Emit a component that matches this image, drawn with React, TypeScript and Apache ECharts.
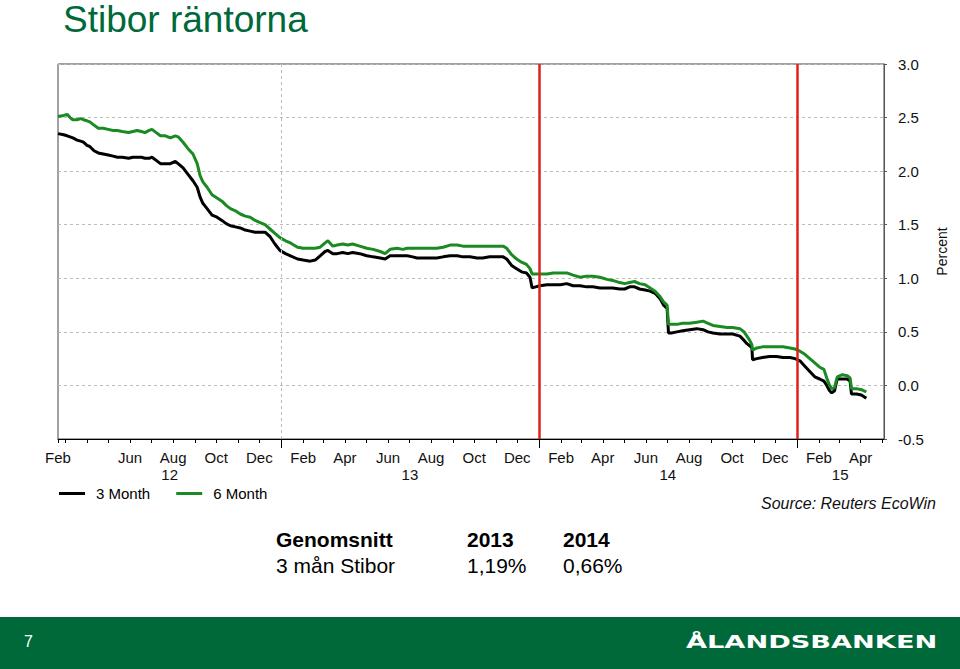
import React, { useEffect, useRef } from 'react';
import * as echarts from 'echarts';

// ---- Data ----
const dates: string[] = [
  '2012-02-20','2012-02-28','2012-03-04','2012-03-08','2012-03-12','2012-03-18','2012-03-23','2012-03-27','2012-04-01','2012-04-05',
  '2012-04-11','2012-04-17','2012-04-24','2012-05-01','2012-05-08','2012-05-14','2012-05-21','2012-05-30','2012-06-05','2012-06-11',
  '2012-06-17','2012-06-22','2012-06-28','2012-07-02','2012-07-08','2012-07-14','2012-07-21','2012-07-28','2012-08-04','2012-08-08',
  '2012-08-15','2012-08-22','2012-08-29','2012-09-04','2012-09-08','2012-09-12','2012-09-18','2012-09-25','2012-10-02','2012-10-09',
  '2012-10-15','2012-10-21','2012-10-28','2012-11-04','2012-11-11','2012-11-18','2012-11-25','2012-12-02','2012-12-09','2012-12-16',
  '2012-12-23','2012-12-30',
  '2013-01-07','2013-01-14','2013-01-24','2013-02-01','2013-02-11','2013-02-18','2013-02-25','2013-03-04','2013-03-08','2013-03-15',
  '2013-03-21','2013-03-29','2013-04-05','2013-04-12','2013-04-22','2013-05-02','2013-05-11','2013-05-21','2013-05-28','2013-06-04',
  '2013-06-14','2013-06-22','2013-06-28','2013-07-06','2013-07-12','2013-07-20','2013-07-30','2013-08-09','2013-08-18','2013-08-28',
  '2013-09-07','2013-09-15','2013-09-25','2013-10-05','2013-10-13','2013-10-23','2013-11-02','2013-11-11','2013-11-16','2013-11-23',
  '2013-11-30','2013-12-07','2013-12-14','2013-12-19','2013-12-22','2013-12-27',
  '2014-01-02','2014-01-12','2014-01-21','2014-01-31','2014-02-09','2014-02-18','2014-02-28','2014-03-09','2014-03-18','2014-03-28',
  '2014-04-07','2014-04-15','2014-04-25','2014-05-02','2014-05-09','2014-05-16','2014-05-23','2014-05-31','2014-06-07','2014-06-14',
  '2014-06-21','2014-06-26','2014-07-01','2014-07-03','2014-07-07','2014-07-15','2014-07-23','2014-08-02','2014-08-12','2014-08-21',
  '2014-08-28','2014-09-04','2014-09-14','2014-09-24','2014-10-02','2014-10-12','2014-10-18','2014-10-22','2014-10-26','2014-10-29',
  '2014-10-30','2014-11-05','2014-11-13','2014-11-23','2014-12-03','2014-12-12','2014-12-22','2014-12-29',
  '2015-01-05','2015-01-12','2015-01-19','2015-01-26','2015-02-02','2015-02-08','2015-02-12','2015-02-16','2015-02-19','2015-02-23',
  '2015-02-26','2015-02-27','2015-03-06','2015-03-13','2015-03-17','2015-03-19','2015-03-26','2015-04-02','2015-04-09',
];

const stibor3m: number[] = [
  2.35,2.34,2.33,2.32,2.31,2.29,2.28,2.27,2.24,2.23,
  2.19,2.17,2.16,2.15,2.14,2.13,2.13,2.12,2.13,2.13,
  2.13,2.12,2.12,2.13,2.10,2.07,2.07,2.07,2.09,2.07,
  2.03,1.97,1.91,1.85,1.76,1.70,1.65,1.59,1.57,1.54,
  1.51,1.49,1.48,1.47,1.45,1.44,1.43,1.43,1.43,1.39,
  1.32,1.26,
  1.23,1.21,1.18,1.17,1.16,1.17,1.21,1.25,1.26,1.23,
  1.23,1.24,1.23,1.24,1.23,1.21,1.20,1.19,1.18,1.21,
  1.21,1.21,1.21,1.20,1.19,1.19,1.19,1.19,1.20,1.21,
  1.21,1.20,1.20,1.19,1.19,1.20,1.20,1.20,1.18,1.12,
  1.09,1.06,1.05,1.01,0.91,0.92,
  0.93,0.94,0.94,0.94,0.95,0.93,0.93,0.92,0.92,0.91,
  0.91,0.91,0.90,0.90,0.92,0.92,0.90,0.89,0.88,0.86,
  0.81,0.75,0.72,0.49,0.49,0.50,0.51,0.52,0.53,0.52,
  0.50,0.49,0.48,0.48,0.48,0.46,0.42,0.39,0.37,0.35,
  0.24,0.25,0.26,0.27,0.27,0.26,0.26,0.25,
  0.23,0.18,0.13,0.08,0.06,0.04,0.00,-0.05,-0.07,-0.05,
  0.04,0.06,0.06,0.06,0.04,-0.08,-0.08,-0.09,-0.12,
];

const stibor6m: number[] = [
  2.51,2.52,2.53,2.50,2.48,2.48,2.49,2.48,2.47,2.46,
  2.43,2.40,2.40,2.39,2.38,2.38,2.37,2.36,2.37,2.38,
  2.37,2.36,2.38,2.39,2.36,2.33,2.33,2.31,2.33,2.32,
  2.27,2.21,2.16,2.07,1.96,1.90,1.85,1.78,1.75,1.72,
  1.68,1.65,1.63,1.60,1.58,1.57,1.54,1.52,1.50,1.46,
  1.42,1.38,
  1.35,1.33,1.29,1.28,1.28,1.28,1.29,1.33,1.35,1.30,
  1.31,1.32,1.31,1.32,1.30,1.28,1.27,1.25,1.23,1.27,
  1.28,1.27,1.28,1.28,1.28,1.28,1.28,1.28,1.29,1.31,
  1.31,1.30,1.30,1.30,1.30,1.30,1.30,1.30,1.28,1.22,
  1.18,1.15,1.13,1.09,1.04,1.04,
  1.04,1.04,1.05,1.05,1.05,1.03,1.01,1.02,1.02,1.01,
  0.99,0.98,0.96,0.95,0.96,0.97,0.95,0.94,0.91,0.88,
  0.83,0.78,0.75,0.57,0.57,0.57,0.58,0.58,0.59,0.60,
  0.58,0.56,0.55,0.54,0.54,0.53,0.50,0.46,0.42,0.38,
  0.33,0.35,0.36,0.36,0.36,0.36,0.35,0.34,
  0.32,0.29,0.25,0.21,0.17,0.15,0.07,0.00,-0.03,-0.02,
  0.06,0.08,0.10,0.09,0.07,-0.03,-0.03,-0.04,-0.06,
];

const seriesNames = ['3 Month', '6 Month'];
const xMin = '2012-02-20';
const xMax = '2015-05-04';
const monthNames = ['Jan','Feb','Mar','Apr','May','Jun','Jul','Aug','Sep','Oct','Nov','Dec'];
const monthLabelDates = [
  '2012-02-20','2012-06-01','2012-08-01','2012-10-01','2012-12-01',
  '2013-02-01','2013-04-01','2013-06-01','2013-08-01','2013-10-01','2013-12-01',
  '2014-02-01','2014-04-01','2014-06-01','2014-08-01','2014-10-01','2014-12-01',
  '2015-02-01','2015-04-01',
];
const yearLabelDates = ['2012-07-27','2013-07-02','2014-07-02','2015-03-03'];
const yearLabels = ['12','13','14','15'];
const yearBoundaries = ['2013-01-01','2014-01-01','2015-01-01'];
const redLineDates = ['2014-01-01','2015-01-01'];
const greyLineDates = ['2013-01-01'];
const yTicks = [-0.5, 3.0, 0.5]; // min, max, interval
const tableHeader = ['Genomsnitt','2013','2014'];
const tableRow = ['3 mån Stibor','1,19%','0,66%'];
const titleText = 'Stibor räntorna';
const sourceText = 'Source: Reuters EcoWin';
const pageNumber = '7';
const logoText = 'ÅLANDSBANKEN';

const ts = (d: string) => Date.parse(d + 'T00:00:00Z');

const FONT = '"Liberation Sans", Arial, sans-serif';
const GREEN_DARK = '#00693a';

export default function App() {
  const ref = useRef<HTMLDivElement>(null);

  useEffect(() => {
    if (!ref.current) return;
    const chart = echarts.init(ref.current, undefined, { renderer: 'svg' });

    const minTs = ts(xMin);
    const maxTs = ts(xMax);
    // month ticks on the first of each month inside the range
    const monthTicks: number[] = [minTs];
    for (let y = 2012; y <= 2015; y++) {
      for (let m = 0; m < 12; m++) {
        const t = Date.UTC(y, m, 1);
        if (t > minTs && t < maxTs) monthTicks.push(t);
      }
    }
    const monthLabelTs = monthLabelDates.map(ts);
    const yearLabelTs = yearLabelDates.map(ts);

    const d3 = dates.map((d, i) => [ts(d), stibor3m[i]]);
    const d6 = dates.map((d, i) => [ts(d), stibor6m[i]]);

    const colX = [276, 467, 563];

    chart.setOption({
      animation: false,
      textStyle: { fontFamily: FONT },
      grid: {
        left: 58,
        right: 76,
        top: 64,
        bottom: 230,
        show: true,
        borderColor: '#444',
        borderWidth: 1,
      },
      legend: {
        left: 54,
        top: 481,
        icon: 'rect',
        itemWidth: 26,
        itemHeight: 3,
        itemGap: 26,
        textStyle: { fontSize: 15, color: '#000', fontFamily: FONT, padding: [0, 0, 0, 6] },
        data: seriesNames,
      },
      xAxis: [
        {
          type: 'value',
          min: minTs,
          max: maxTs,
          axisLine: { show: true, onZero: false, lineStyle: { color: '#000', width: 1 } },
          axisTick: {
            show: true,
            customValues: monthTicks,
            length: 4,
            lineStyle: { color: '#000' },
          },
          axisLabel: {
            customValues: monthLabelTs,
            formatter: (v: number) => monthNames[new Date(v).getUTCMonth()],
            fontSize: 15,
            color: '#111',
            margin: 11,
            fontFamily: FONT,
          },
          splitLine: { show: false },
        },
        {
          type: 'value',
          position: 'bottom',
          min: minTs,
          max: maxTs,
          axisLine: { show: false, onZero: false },
          axisTick: {
            show: true,
            customValues: yearBoundaries.map(ts),
            length: 9,
            lineStyle: { color: '#000' },
          },
          axisLabel: {
            customValues: yearLabelTs,
            formatter: (v: number) => yearLabels[yearLabelTs.indexOf(v)] ?? '',
            fontSize: 15,
            color: '#111',
            margin: 28,
            fontFamily: FONT,
          },
          splitLine: { show: false },
        },
      ],
      yAxis: {
        type: 'value',
        position: 'right',
        min: yTicks[0],
        max: yTicks[1],
        interval: yTicks[2],
        name: 'Percent',
        nameLocation: 'middle',
        nameRotate: 90,
        nameGap: 39,
        nameTextStyle: { fontSize: 14, color: '#111', fontFamily: FONT },
        axisLine: { show: true, lineStyle: { color: '#555' } },
        axisTick: { show: true, length: 3, lineStyle: { color: '#555' } },
        axisLabel: {
          fontSize: 15,
          color: '#111',
          margin: 14,
          fontFamily: FONT,
          formatter: (v: number) => v.toFixed(1),
        },
        splitLine: { show: true, lineStyle: { color: '#bbb', type: [3, 3], width: 1 } },
      },
      series: [
        {
          name: seriesNames[0],
          type: 'line',
          data: d3,
          showSymbol: false,
          symbol: 'none',
          lineStyle: { color: '#000', width: 3 },
          itemStyle: { color: '#000' },
          z: 2,
          markLine: {
            silent: true,
            symbol: ['none', 'none'],
            label: { show: false },
            data: [
              ...greyLineDates.map((d) => ({ xAxis: ts(d), lineStyle: { color: '#bbb', type: [3, 3], width: 1 } })),
              ...redLineDates.map((d) => ({ xAxis: ts(d), lineStyle: { color: '#e0201b', type: 'solid', width: 2.5 } })),
            ],
          },
        },
        {
          name: seriesNames[1],
          type: 'line',
          data: d6,
          showSymbol: false,
          symbol: 'none',
          lineStyle: { color: '#1a8a22', width: 3 },
          itemStyle: { color: '#1a8a22' },
          z: 3,
        },
      ],
      graphic: [
        {
          type: 'text',
          x: 63,
          y: 19,
          style: { text: titleText, font: `37px ${FONT}`, fill: GREEN_DARK, verticalAlign: 'middle', align: 'left' },
        },
        {
          type: 'text',
          x: 936,
          y: 503,
          style: { text: sourceText, font: `italic 16px ${FONT}`, fill: '#111', verticalAlign: 'middle', align: 'right' },
        },
        ...tableHeader.map((t, i) => ({
          type: 'text',
          x: colX[i],
          y: 539,
          style: { text: t, font: `bold 21px ${FONT}`, fill: '#000', verticalAlign: 'middle', align: 'left' },
        })),
        ...tableRow.map((t, i) => ({
          type: 'text',
          x: colX[i],
          y: 565,
          style: { text: t, font: `21px ${FONT}`, fill: '#000', verticalAlign: 'middle', align: 'left' },
        })),
        {
          type: 'rect',
          shape: { x: 0, y: 617, width: 960, height: 52 },
          style: { fill: GREEN_DARK },
          z: -1,
        },
        {
          type: 'text',
          x: 24,
          y: 641,
          style: { text: pageNumber, font: `16px ${FONT}`, fill: '#fff', verticalAlign: 'middle', align: 'left' },
        },
        {
          type: 'text',
          x: 686,
          y: 642,
          scaleX: 1.6,
          style: { text: logoText, font: `bold 17px "DejaVu Sans", sans-serif`, fill: '#fff', verticalAlign: 'middle', align: 'left' },
        },
      ],
    });

    return () => chart.dispose();
  }, []);

  return (
    <div
      ref={ref}
      style={{ position: 'absolute', left: 0, top: 0, width: 960, height: 669, background: '#fff' }}
    />
  );
}
